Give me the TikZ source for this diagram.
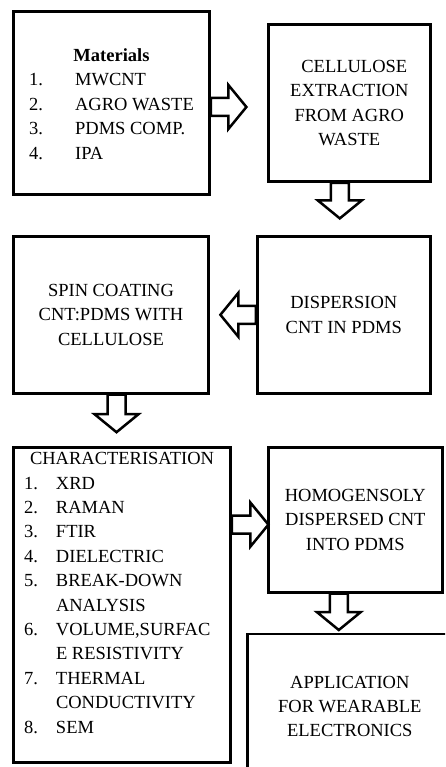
\documentclass[tikz,border=0pt]{standalone}
\usepackage{fontspec}
\setmainfont{Liberation Serif}
\usetikzlibrary{positioning,calc}

% hollow block arrow from #1 (tail) to #2 (tip)
\newcommand{\bigarrow}[2]{%
  \coordinate (hb) at ($(#2)!18pt!(#1)$);
  \draw[arrow line] ($(#1)!9pt!90:(#2)$) -- ($(hb)!9pt!-90:(#1)$) -- ($(hb)!22pt!-90:(#1)$)
     -- (#2) -- ($(hb)!22pt!90:(#1)$) -- ($(hb)!9pt!90:(#1)$) -- ($(#1)!9pt!-90:(#2)$) -- cycle;}

\begin{document}
\begin{tikzpicture}[main node/.style={rectangle,draw,line width=2.8pt,inner sep=0pt,align=center,
                      font=\fontsize{18.5pt}{24.4pt}\selectfont},
                    arrow line/.style={line width=2.5pt}]

  \useasboundingbox (0,0) rectangle (445pt,-767pt);
  \clip (0,0) rectangle (445pt,-767pt);

  \node[main node,minimum width=196pt,minimum height=183pt] (1) at (111.5pt,-103pt)
    {\begin{tabular}{@{}p{46pt}@{}l@{}}
      \multicolumn{2}{c}{\rule{0pt}{22pt}\textbf{Materials}}\\
      1. & MWCNT\\
      2. & AGRO WASTE\\
      3. & PDMS COMP.\\
      4. & IPA
    \end{tabular}};
  \node[main node,minimum width=162pt,minimum height=157pt] (2) [right=56pt of 1]
    {\hspace*{10pt}CELLULOSE\\ EXTRACTION\\ FROM AGRO\\ WASTE};
  \node[main node,minimum width=173pt,minimum height=157pt] (4)
    [below=52pt of 2.south east,anchor=north east] {DISPERSION\\ CNT IN PDMS};
  \node[main node,minimum width=195pt,minimum height=157pt] (3) [left=46pt of 4]
    {SPIN COATING\\ CNT:PDMS WITH\\ CELLULOSE};
  \node[main node,minimum width=217pt,minimum height=315pt] (5)
    [below=51pt of 3.south west,anchor=north west]
    {\begin{tabular}{@{}p{32pt}@{}l@{}}
      \multicolumn{2}{c}{CHARACTERISATION}\\
      1. & XRD\\
      2. & RAMAN\\
      3. & FTIR\\
      4. & DIELECTRIC\\
      5. & BREAK-DOWN\\
         & ANALYSIS\\
      6. & VOLUME,SURFAC\\
         & E RESISTIVITY\\
      7. & THERMAL\\
         & CONDUCTIVITY\\
      8. & SEM\\[21pt]
    \end{tabular}};
  \node[main node,minimum width=174pt,minimum height=145pt] (6)
    [right=35pt of 5.north east,anchor=north west] {HOMOGENSOLY\\ DISPERSED CNT\\ INTO PDMS};
  \node[main node,minimum width=205pt,minimum height=145pt] (7)
    [below=39pt of 6.south west,anchor=north west,xshift=-21pt]
    {APPLICATION\\ FOR WEARABLE\\ ELECTRONICS};

  % arrows between the steps
  \coordinate (s1) at ($(1.east)+(0,-4pt)$);
  \coordinate (t1) at ($(s1)+(35.5pt,0)$);
  \coordinate (s2) at ($(2.south)+(-9.5pt,0)$);
  \coordinate (t2) at ($(s2)+(0,-35.5pt)$);
  \coordinate (s3) at (4.west);
  \coordinate (t3) at ($(s3)+(-35.5pt,0)$);
  \coordinate (s4) at ($(3.south)+(5.5pt,0)$);
  \coordinate (t4) at ($(s4)+(0,-37.5pt)$);
  \coordinate (s5) at ($(5.east |- 6.west)+(0,-5pt)$);
  \coordinate (t5) at ($(s5)+(36.5pt,0)$);
  \coordinate (s6) at ($(6.south)+(-16.5pt,0)$);
  \coordinate (t6) at ($(s6)+(0,-36.5pt)$);
  \bigarrow{s1}{t1}
  \bigarrow{s2}{t2}
  \bigarrow{s3}{t3}
  \bigarrow{s4}{t4}
  \bigarrow{s5}{t5}
  \bigarrow{s6}{t6}
\end{tikzpicture}
\end{document}
